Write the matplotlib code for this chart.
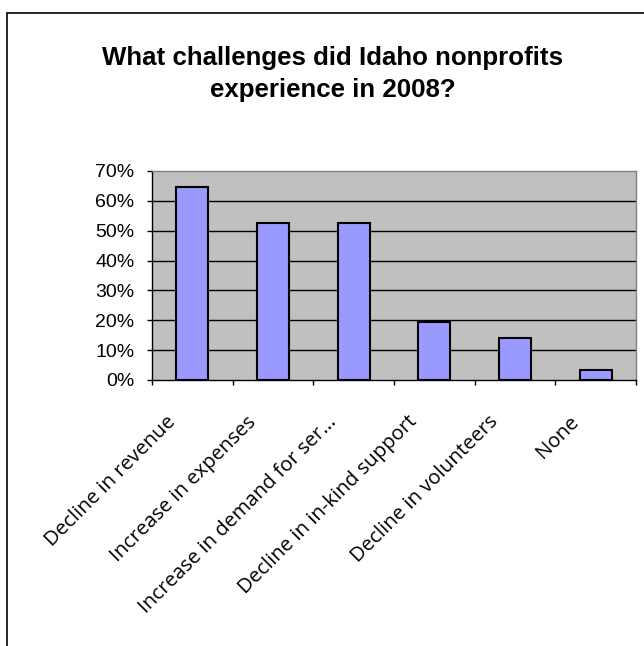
import matplotlib
matplotlib.use("Agg")
import matplotlib.pyplot as plt
from matplotlib.patches import Rectangle
from matplotlib.ticker import FixedLocator, PercentFormatter
from matplotlib.transforms import ScaledTranslation

categories = ["Decline in revenue", "Increase in expenses", "Increase in demand for ser...",
              "Decline in in-kind support", "Decline in volunteers", "None"]
values = [64.7, 52.7, 52.7, 19.5, 14.2, 3.3]
yticks = [0, 10, 20, 30, 40, 50, 60, 70]

plt.rcParams['font.family'] = ['Liberation Sans', 'DejaVu Sans']

fig = plt.figure(figsize=(6.44, 6.46), dpi=100)
fig.patch.set_facecolor('white')

# outer chart border
fig.add_artist(Rectangle((7/644, -0.1), 1.2, 1 - 13/646 + 0.1, transform=fig.transFigure,
                         fill=False, edgecolor='black', linewidth=1.2))

ax = fig.add_axes([152/644, 1 - 380/646, (636 - 152)/644, (380 - 171)/646])
ax.set_facecolor('#C0C0C0')

x = list(range(len(categories)))
ax.bar(x, values, width=0.4, color='#9999FF', edgecolor='black', linewidth=1.5, zorder=3)

ax.set_xlim(-0.5, len(categories) - 0.5)
ax.set_ylim(0, 70)
ax.set_yticks(yticks)
ax.yaxis.set_major_formatter(PercentFormatter(decimals=0))
for yv in yticks[1:-1]:
    ax.axhline(yv, color='black', linewidth=1.0, zorder=1)

ax.xaxis.set_major_locator(FixedLocator([i - 0.5 for i in range(len(categories) + 1)]))
ax.set_xticklabels([])
ax.tick_params(axis='x', which='major', length=3.6, direction='out', width=1, color='black')
ax.tick_params(axis='y', length=3.6, direction='out', width=1, labelsize=14, pad=9)

# rotated category labels
offset = ScaledTranslation(-27/100, -32/100, fig.dpi_scale_trans)
for xi, lab in zip(x, categories):
    ax.text(xi, 0, lab, transform=ax.get_xaxis_transform() + offset,
            rotation=45, ha='right', va='top', rotation_mode='anchor',
            fontsize=14.7, family=['Open Sans', 'DejaVu Sans'])

for s in ['left', 'bottom']:
    ax.spines[s].set_color('black')
    ax.spines[s].set_linewidth(1.0)
for s in ['top', 'right']:
    ax.spines[s].set_color('#808080')
    ax.spines[s].set_linewidth(1.0)

fig.text(0.517, 1 - 74/646, "What challenges did Idaho nonprofits\nexperience in 2008?",
         ha='center', va='center', fontsize=18.6, fontweight='bold', linespacing=1.4)

fig.savefig("out.png", dpi=100)
